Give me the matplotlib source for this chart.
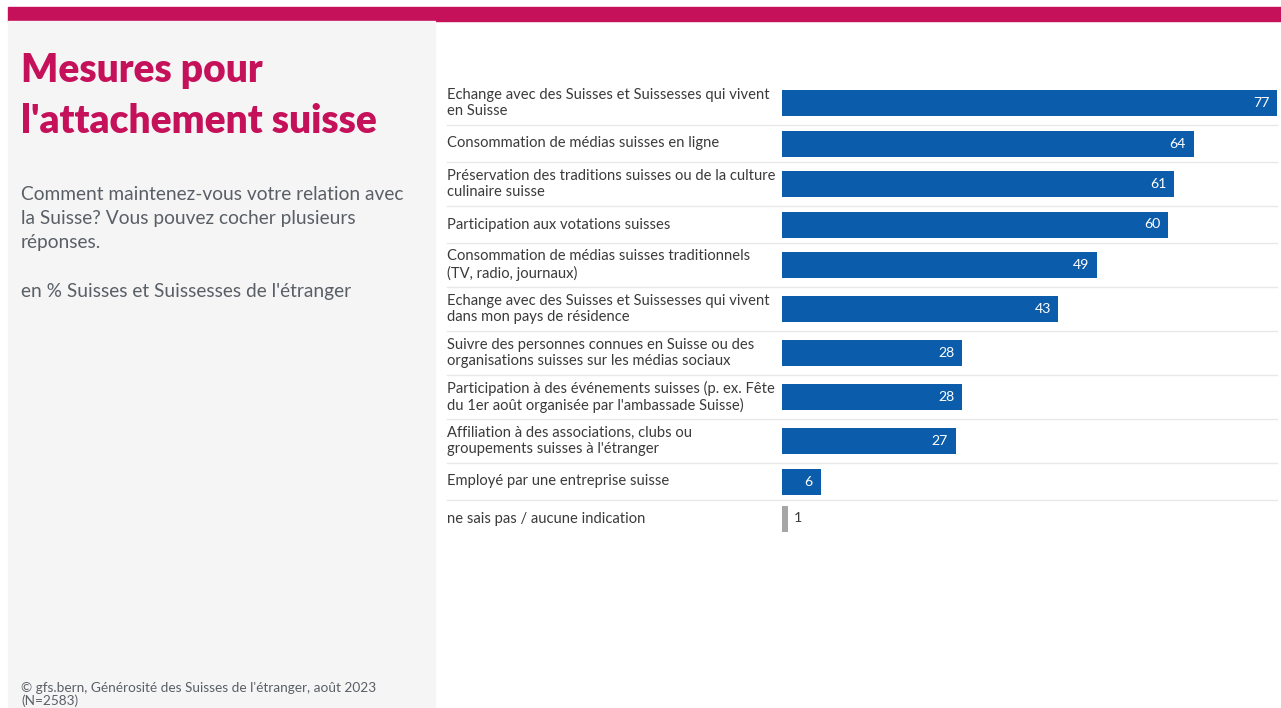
import matplotlib.pyplot as plt
from matplotlib.patches import Rectangle
from matplotlib.transforms import blended_transform_factory

categories = [
    "Echange avec des Suisses et Suissesses qui vivent\nen Suisse",
    "Consommation de médias suisses en ligne",
    "Préservation des traditions suisses ou de la culture\nculinaire suisse",
    "Participation aux votations suisses",
    "Consommation de médias suisses traditionnels\n(TV, radio, journaux)",
    "Echange avec des Suisses et Suissesses qui vivent\ndans mon pays de résidence",
    "Suivre des personnes connues en Suisse ou des\norganisations suisses sur les médias sociaux",
    "Participation à des événements suisses (p. ex. Fête\ndu 1er août organisée par l'ambassade Suisse)",
    "Affiliation à des associations, clubs ou\ngroupements suisses à l'étranger",
    "Employé par une entreprise suisse",
    "ne sais pas / aucune indication",
]
values = [77, 64, 61, 60, 49, 43, 28, 28, 27, 6, 1]
is_no_answer = [False] * 10 + [True]

title_lines = ["Mesures pour", "l'attachement suisse"]
subtitle_lines = ["Comment maintenez-vous votre relation avec",
                  "la Suisse? Vous pouvez cocher plusieurs",
                  "réponses."]
unit_note = "en % Suisses et Suissesses de l'étranger"
source_lines = ["© gfs.bern, Générosité des Suisses de l'étranger, août 2023", "(N=2583)"]

MAGENTA = "#c5105a"
BLUE = "#0b5caa"
GREY_BAR = "#a6a6a6"
PANEL = "#f5f5f5"
TEXT = "#3a3a3a"
SUB = "#5a5f66"

plt.rcParams["font.family"] = ["Lato", "DejaVu Sans"]

W, H = 1281, 708
fig = plt.figure(figsize=(W / 100, H / 100), dpi=100)
fig.patch.set_facecolor("white")

# top band and left panel
fig.patches.append(Rectangle((8 / W, 1 - 21 / H), 1, 14 / H, transform=fig.transFigure,
                             color=MAGENTA, zorder=0))
fig.patches.append(Rectangle((8 / W, 0), (435 - 8) / W, 1 - 21 / H, transform=fig.transFigure,
                             color=PANEL, zorder=0))


def put(text, x, y, **kw):
    fig.text(x / W, 1 - y / H, text, ha="left", va="baseline", **kw)


for i, line in enumerate(title_lines):
    put(line, 21, 82 + 51 * i, color=MAGENTA, fontsize=28, fontweight="heavy")
for i, line in enumerate(subtitle_lines):
    put(line, 21, 200 + 24 * i, color=SUB, fontsize=13.8)
put(unit_note, 21, 297, color=SUB, fontsize=13.8)
for i, line in enumerate(source_lines):
    put(line, 21, 692 + 13 * i, color=SUB, fontsize=9.8)

# row heights depend on number of label lines
row_h = [44 if "\n" in c else 37 for c in categories]
centers = []
pos = 0
for h in row_h:
    centers.append(pos + h / 2)
    pos += h
total = pos

top_px, left_px = 81, 782
px_per_unit = 6.43
ax = fig.add_axes([left_px / W, 1 - (top_px + total) / H, (W - left_px) / W, total / H])
ax.set_xlim(0, (W - left_px) / px_per_unit)
ax.set_ylim(total, 0)
ax.axis("off")

colors = [GREY_BAR if n else BLUE for n in is_no_answer]
ax.barh(centers, values, height=26, color=colors, zorder=2)

tr = blended_transform_factory(fig.transFigure, ax.transData)
boundary = 0
for i, (c, v, h) in enumerate(zip(categories, values, row_h)):
    y = centers[i]
    ax.text(447 / W, y, c, transform=tr, ha="left", va="center", fontsize=10.6,
            color=TEXT, linespacing=1.18)
    if is_no_answer[i]:
        ax.text(v + 0.8, y, str(v), ha="left", va="center", fontsize=10.2, color=TEXT)
    else:
        ax.text(v - 1.2, y, str(v), ha="right", va="center", fontsize=10.2, color="white")
    boundary += h
    if i < len(categories) - 1:
        ax.plot([447 / W, 1277 / W], [boundary, boundary], transform=tr, color="#e8e8e8",
                lw=1, clip_on=False, zorder=1)

fig.savefig("out.png", dpi=100)
